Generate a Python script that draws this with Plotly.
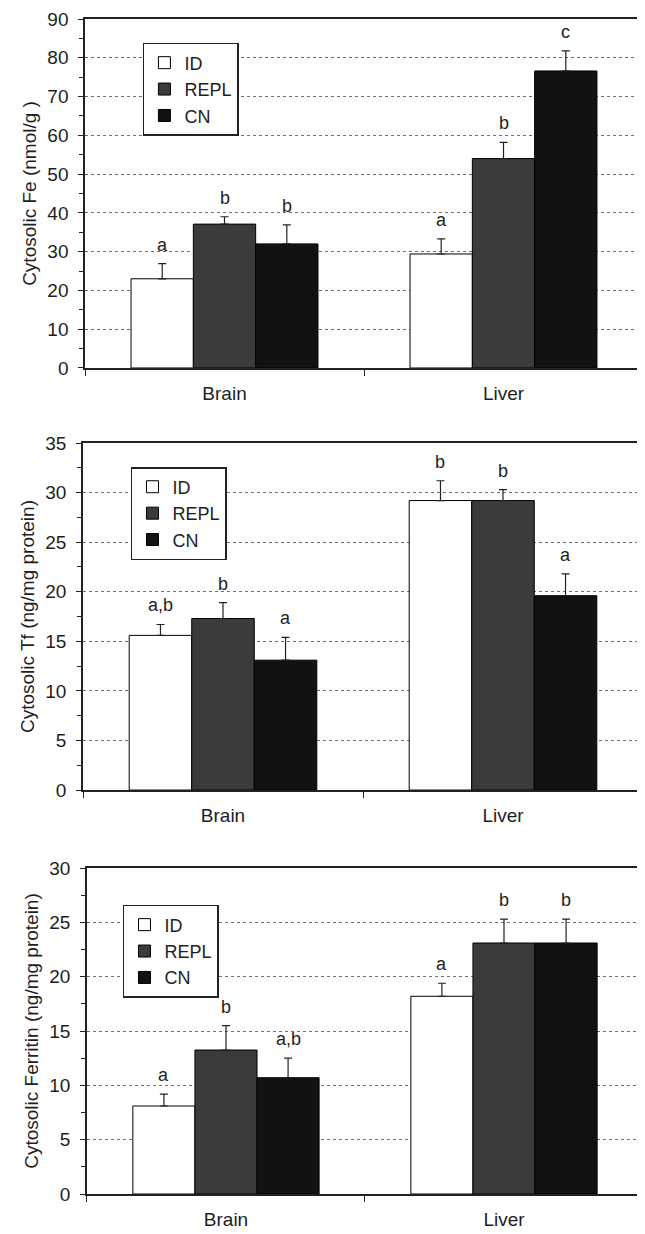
import plotly.graph_objects as go

# ---------------- data ----------------
groups = ["Brain", "Liver"]
series = ["ID", "REPL", "CN"]

# Panel 1: Cytosolic Fe (nmol/g)
fe_ID = [23.0, 29.4]
fe_REPL = [37.1, 54.0]
fe_CN = [32.0, 76.6]
fe_ID_err = [3.9, 3.9]
fe_REPL_err = [1.9, 4.2]
fe_CN_err = [4.9, 5.2]
fe_ID_lbl = ["a", "a"]
fe_REPL_lbl = ["b", "b"]
fe_CN_lbl = ["b", "c"]

# Panel 2: Cytosolic Tf (ng/mg protein)
tf_ID = [15.6, 29.2]
tf_REPL = [17.3, 29.2]
tf_CN = [13.1, 19.6]
tf_ID_err = [1.1, 2.0]
tf_REPL_err = [1.6, 1.1]
tf_CN_err = [2.3, 2.2]
tf_ID_lbl = ["a,b", "b"]
tf_REPL_lbl = ["b", "b"]
tf_CN_lbl = ["a", "a"]

# Panel 3: Cytosolic Ferritin (ng/mg protein)
fer_ID = [8.1, 18.2]
fer_REPL = [13.25, 23.1]
fer_CN = [10.7, 23.1]
fer_ID_err = [1.1, 1.2]
fer_REPL_err = [2.25, 2.2]
fer_CN_err = [1.8, 2.2]
fer_ID_lbl = ["a", "a"]
fer_REPL_lbl = ["b", "b"]
fer_CN_lbl = ["a,b", "b"]

y_titles = ["Cytosolic Fe (nmol/g )", "Cytosolic Tf (ng/mg protein)",
            "Cytosolic Ferritin (ng/mg protein)"]
y_max = [90, 35, 30]
y_dtick = [10, 5, 5]

# ---------------- styling ----------------
FONT = "Liberation Sans, Arial, sans-serif"
TXT = "#1e1e1e"
colors = {"ID": "#ffffff", "REPL": "#3b3b3b", "CN": "#121212"}
BARGAP = 0.33

panels = [
    ({"ID": fe_ID, "REPL": fe_REPL, "CN": fe_CN},
     {"ID": fe_ID_err, "REPL": fe_REPL_err, "CN": fe_CN_err},
     {"ID": fe_ID_lbl, "REPL": fe_REPL_lbl, "CN": fe_CN_lbl}),
    ({"ID": tf_ID, "REPL": tf_REPL, "CN": tf_CN},
     {"ID": tf_ID_err, "REPL": tf_REPL_err, "CN": tf_CN_err},
     {"ID": tf_ID_lbl, "REPL": tf_REPL_lbl, "CN": tf_CN_lbl}),
    ({"ID": fer_ID, "REPL": fer_REPL, "CN": fer_CN},
     {"ID": fer_ID_err, "REPL": fer_REPL_err, "CN": fer_CN_err},
     {"ID": fer_ID_lbl, "REPL": fer_REPL_lbl, "CN": fer_CN_lbl}),
]

y_domains = [[0.7030, 1.0], [0.3438, 0.6391], [0.0, 0.2774]]
x_domains = [[0.0036, 1.0], [0.0, 1.0], [0.0071, 1.0]]
legend_pos = [(0.107, 0.9796), (0.0857, 0.6187), (0.0714, 0.246)]

fig = go.Figure()
annotations = []
barw = (1 - BARGAP) / len(series)

for p, (vals, errs, lbls) in enumerate(panels):
    n = "" if p == 0 else str(p + 1)
    xa, ya = "x" + n, "y" + n
    lg = "legend" + n
    for k, s in enumerate(series):
        fig.add_trace(go.Bar(
            x=groups, y=vals[s], name=s, xaxis=xa, yaxis=ya, legend=lg,
            marker=dict(color=colors[s], line=dict(color="#000000", width=1)),
            error_y=dict(type="data", symmetric=False, array=errs[s],
                         arrayminus=[0] * len(groups), color="#222222",
                         thickness=1.2, width=4),
        ))
        for i, g in enumerate(groups):
            annotations.append(dict(
                x=i + (k - 1) * barw, y=vals[s][i] + errs[s][i],
                xref=xa, yref=ya, text=lbls[s][i], showarrow=False,
                yanchor="bottom", yshift=7,
                font=dict(family=FONT, size=18, color=TXT),
            ))

# the page body adds an 8 px offset, so the figure is 8 px smaller
layout = dict(
    width=637, height=1226,
    margin=dict(l=75, r=2, t=11, b=40),
    paper_bgcolor="white", plot_bgcolor="white",
    barmode="group", bargap=BARGAP, bargroupgap=0,
    font=dict(family=FONT, size=18, color=TXT),
    showlegend=True,
    annotations=annotations,
)

for p in range(3):
    n = "" if p == 0 else str(p + 1)
    layout["xaxis" + n] = dict(
        domain=x_domains[p], anchor="y" + n, type="category",
        range=[-0.5, 1.5], showline=True, linecolor="#222222", linewidth=1.5,
        mirror=True, ticks="outside", ticklen=6, tickcolor="#222222",
        tickson="boundaries", showgrid=False, ticklabelstandoff=7,
        tickfont=dict(family=FONT, size=19, color=TXT),
    )
    layout["yaxis" + n] = dict(
        domain=y_domains[p], anchor="x" + n, range=[0, y_max[p]],
        dtick=y_dtick[p], showline=True, linecolor="#222222", linewidth=1.5,
        ticks="outside", ticklen=5, tickcolor="#222222",
        minor=dict(dtick=y_dtick[p] / 2, ticks="outside", ticklen=4,
                   tickcolor="#222222", showgrid=False),
        showgrid=True, gridcolor="#6e6e6e", griddash="dot", gridwidth=1,
        zeroline=False, ticklabelstandoff=6,
        tickfont=dict(family=FONT, size=19, color=TXT),
        title=dict(text=y_titles[p], standoff=6,
                   font=dict(family=FONT, size=19, color=TXT)),
    )
    lx, ly = legend_pos[p]
    layout["legend" + n] = dict(
        x=lx, y=ly, xanchor="left", yanchor="top",
        bgcolor="white", bordercolor="#222222", borderwidth=1.5,
        font=dict(family=FONT, size=18, color=TXT),
        tracegroupgap=0, itemwidth=30,
    )

fig.update_layout(**layout)
fig.write_html("out.html")
